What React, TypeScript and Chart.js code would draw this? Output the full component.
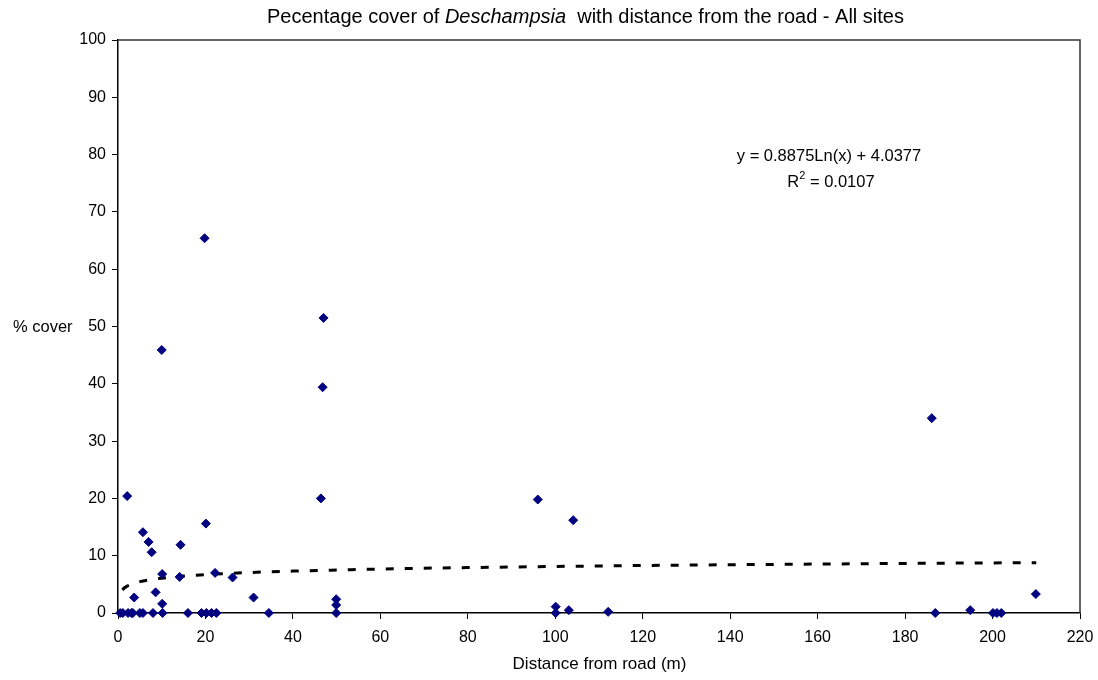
import React, { useEffect, useRef } from "react";
import { Chart, registerables } from "chart.js";

Chart.register(...registerables);

// Observed samples: distance from road (m) and % cover of Deschampsia
const distances: number[] = [
  2.1, 19.8, 10.0, 47.0, 46.8, 46.4, 5.7, 7.0, 7.7, 14.3, 20.1, 10.1, 14.1, 22.2, 26.2,
  3.7, 8.6, 10.1, 31.0, 49.9, 49.9, 49.9, 96.0, 104.1, 100.1, 100.1, 103.1, 112.1,
  186.1, 186.9, 194.9, 200.1, 201.0, 202.0, 209.9,
  0.5, 1.1, 2.3, 3.1, 3.4, 5.0, 5.7, 8.0, 10.2, 16.0, 19.1, 20.2, 21.4, 22.5, 34.5,
];
const covers: number[] = [
  20.4, 65.4, 45.9, 51.5, 39.4, 20.0, 14.1, 12.4, 10.6, 11.9, 15.6, 6.8, 6.3, 7.0, 6.2,
  2.7, 3.6, 1.6, 2.7, 2.4, 1.4, 0, 19.8, 16.2, 1.1, 0, 0.5, 0.2,
  34.0, 0, 0.5, 0, 0, 0, 3.3,
  0, 0, 0, 0, 0, 0, 0, 0, 0, 0, 0, 0, 0, 0, 0,
];

// Logarithmic trendline
const trendX: number[] = [1, 1.5, 2, 3, 4, 5, 7, 10, 15, 20, 30, 40, 60, 80, 100, 130, 160, 190, 210];
const trendY: number[] = [4.04, 4.4, 4.65, 5.01, 5.27, 5.47, 5.76, 6.08, 6.44, 6.7, 7.06, 7.31, 7.67, 7.93, 8.12, 8.36, 8.54, 8.7, 8.78];

const xTicksMax = 220;
const xTickStep = 20;
const yTicksMax = 100;
const yTickStep = 10;

const titleParts = ["Pecentage cover of ", "Deschampsia", "  with distance from the road - All sites"];
const xTitle = "Distance from road (m)";
const yTitle = "% cover";
const equationLine = "y = 0.8875Ln(x) + 4.0377";
const rSquared = "0.0107";

const FONT = '"Liberation Sans", Arial, sans-serif';

const decorPlugin = {
  id: "decor",
  beforeDatasetsDraw(chart: any) {
    const { ctx, chartArea } = chart;
    ctx.save();
    ctx.strokeStyle = "#333";
    ctx.lineWidth = 1.5;
    ctx.beginPath();
    ctx.moveTo(chartArea.left, chartArea.top);
    ctx.lineTo(chartArea.right, chartArea.top);
    ctx.lineTo(chartArea.right, chartArea.bottom);
    ctx.stroke();
    ctx.restore();
  },
  afterDraw(chart: any) {
    const { ctx } = chart;
    ctx.save();
    ctx.fillStyle = "#000";
    ctx.textBaseline = "middle";
    // title
    const normal = `20px ${FONT}`;
    const italic = `italic 20px ${FONT}`;
    const fonts = [normal, italic, normal];
    let total = 0;
    const widths = titleParts.map((t, i) => {
      ctx.font = fonts[i];
      const w = ctx.measureText(t).width;
      total += w;
      return w;
    });
    let x = 585.5 - total / 2;
    titleParts.forEach((t, i) => {
      ctx.font = fonts[i];
      ctx.textAlign = "left";
      ctx.fillText(t, x, 17);
      x += widths[i];
    });
    // axis titles
    ctx.font = `17px ${FONT}`;
    ctx.textAlign = "center";
    ctx.fillText(xTitle, 599.5, 664);
    ctx.font = `16.5px ${FONT}`;
    ctx.textAlign = "left";
    ctx.fillText(yTitle, 13, 327);
    // equation
    ctx.font = `16.5px ${FONT}`;
    ctx.textAlign = "center";
    ctx.fillText(equationLine, 829, 156);
    const p1 = "R";
    const p3 = " = " + rSquared;
    const w1 = ctx.measureText(p1).width;
    const w3 = ctx.measureText(p3).width;
    ctx.font = `11px ${FONT}`;
    const w2 = ctx.measureText("2").width;
    const start = 831 - (w1 + w2 + w3) / 2;
    ctx.textAlign = "left";
    ctx.font = `16.5px ${FONT}`;
    ctx.fillText(p1, start, 182);
    ctx.font = `11px ${FONT}`;
    ctx.fillText("2", start + w1, 176);
    ctx.font = `16.5px ${FONT}`;
    ctx.fillText(p3, start + w1 + w2, 182);
    ctx.restore();
  },
};

export default function App() {
  const canvasRef = useRef<HTMLCanvasElement | null>(null);

  useEffect(() => {
    if (!canvasRef.current) return;
    const points = distances.map((d, i) => ({ x: d, y: covers[i] }));
    const trend = trendX.map((d, i) => ({ x: d, y: trendY[i] }));
    const chart = new Chart(canvasRef.current, {
      type: "scatter",
      data: {
        datasets: [
          {
            type: "line",
            label: "Trend",
            data: trend,
            borderColor: "#000",
            borderWidth: 3,
            borderDash: [8, 11],
            pointRadius: 0,
            fill: false,
            showLine: true,
            cubicInterpolationMode: "monotone",
            order: 2,
          } as any,
          {
            label: "% cover",
            data: points,
            pointStyle: "rectRot",
            pointRadius: 4.5,
            pointBackgroundColor: "#000080",
            pointBorderColor: "#000080",
            pointBorderWidth: 1,
            clip: false,
            order: 1,
          } as any,
        ],
      },
      options: {
        responsive: false,
        animation: false,
        layout: { padding: { top: 40, right: 18, left: 0, bottom: 0 } },
        plugins: {
          legend: { display: false },
          title: { display: false },
          tooltip: { enabled: false },
        },
        scales: {
          x: {
            type: "linear",
            min: 0,
            max: xTicksMax,
            ticks: {
              stepSize: xTickStep,
              color: "#000",
              font: { family: FONT, size: 16 },
              padding: 9,
              maxRotation: 0,
            },
            grid: { drawOnChartArea: false, drawTicks: true, tickLength: 6, color: "#000", lineWidth: 1 },
            border: { color: "#000", width: 1.5 },
            afterFit: (s: any) => {
              s.height = 67;
              s.paddingLeft = 0;
              s.paddingRight = 0;
            },
          },
          y: {
            type: "linear",
            min: 0,
            max: yTicksMax,
            ticks: {
              stepSize: yTickStep,
              color: "#000",
              font: { family: FONT, size: 16 },
              padding: 6,
            },
            grid: { drawOnChartArea: false, drawTicks: true, tickLength: 6, color: "#000", lineWidth: 1 },
            border: { color: "#000", width: 1.5 },
            afterFit: (s: any) => {
              s.width = 118;
              s.paddingTop = 0;
              s.paddingBottom = 0;
            },
          },
        },
      },
      plugins: [decorPlugin],
    });
    return () => chart.destroy();
  }, []);

  return (
    <div style={{ position: "fixed", left: 0, top: 0, width: 1098, height: 680, background: "#fff" }}>
      <canvas ref={canvasRef} width={1098} height={680} style={{ width: 1098, height: 680, display: "block" }} />
    </div>
  );
}
